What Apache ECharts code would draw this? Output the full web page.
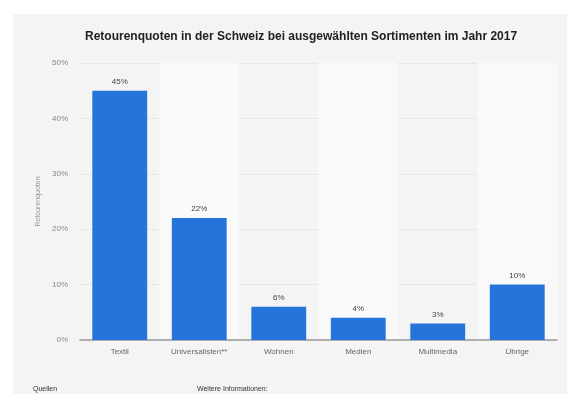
<!DOCTYPE html>
<html>
<head>
<meta charset="utf-8">
<script src="https://cdn.jsdelivr.net/npm/echarts@6/dist/echarts.min.js"></script>
<style>
html,body{margin:0;padding:0;background:#fff;}
#c{width:567px;height:394px;}
</style>
</head>
<body>
<div id="c"></div>
<script>
const categories = ['Textil', 'Universalisten**', 'Wohnen', 'Medien', 'Multimedia', 'Übrige'];
const values = [45, 22, 6, 4, 3, 10];
const yTicks = [0, 10, 20, 30, 40, 50];

const chart = echarts.init(document.getElementById('c'), null, {renderer: 'canvas'});
chart.setOption({
  backgroundColor: '#ffffff',
  animation: false,
  graphic: [
    {type: 'rect', left: 13, top: 14, shape: {width: 560, height: 390}, style: {fill: '#f4f4f4'}, z: -10},
    {type: 'text', left: 33, top: 386, style: {text: 'Quellen', fontSize: 7, fill: '#333', fontFamily: 'Liberation Sans'}},
    {type: 'text', left: 197, top: 386, style: {text: 'Weitere Informationen:', fontSize: 7, fill: '#333', fontFamily: 'Liberation Sans'}}
  ],
  title: {
    text: 'Retourenquoten in der Schweiz bei ausgewählten Sortimenten im Jahr 2017',
    left: 80,
    top: 26,
    textStyle: {fontSize: 12, fontWeight: 'bold', color: '#222', fontFamily: 'Liberation Sans'}
  },
  grid: {left: 80, right: 10, top: 63, bottom: 54},
  xAxis: {
    type: 'category',
    data: categories,
    axisTick: {show: false},
    axisLine: {lineStyle: {color: '#999', width: 1.5}},
    axisLabel: {color: '#666', fontSize: 8, margin: 8, fontFamily: 'Liberation Sans'},
    splitArea: {show: true, areaStyle: {color: ['rgba(0,0,0,0)', '#f9f9f9']}}
  },
  yAxis: {
    type: 'value',
    min: yTicks[0],
    max: yTicks[yTicks.length - 1],
    interval: 10,
    name: 'Retourenquoten',
    nameLocation: 'middle',
    nameGap: 36,
    nameRotate: 90,
    nameTextStyle: {color: '#999', fontSize: 7, fontFamily: 'Liberation Sans'},
    axisLabel: {color: '#888', fontSize: 8, margin: 12, formatter: '{value}%', fontFamily: 'Liberation Sans'},
    axisLine: {show: false},
    axisTick: {show: false},
    splitLine: {lineStyle: {color: '#ddd', type: [1, 1], width: 1}}
  },
  series: [{
    type: 'bar',
    data: values,
    barWidth: '69%',
    itemStyle: {color: '#2574db'},
    label: {show: true, position: 'top', distance: 5, formatter: '{c}%', color: '#444', fontSize: 8, fontFamily: 'Liberation Sans'}
  }]
});
</script>
</body>
</html>
